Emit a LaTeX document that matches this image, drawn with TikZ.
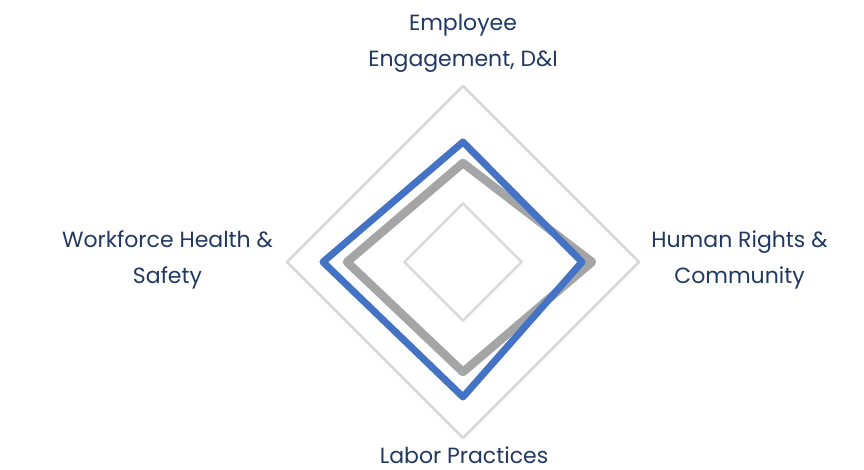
\documentclass[tikz,border=0pt]{standalone}
\usepackage{fontspec}
\setmainfont{Poppins}
\definecolor{navy}{HTML}{203864}
\definecolor{gridgray}{HTML}{D9D9D9}
\definecolor{seriesblue}{HTML}{4472C4}
\definecolor{seriesgray}{HTML}{A5A5A5}
\begin{document}
\begin{tikzpicture}[x = 1pt, y = 1pt, line join = round,
    axislabel/.style = {text = navy, align = center, inner sep = 0pt,
      font = \fontsize{22}{36}\selectfont}]
  \useasboundingbox (-463,-208) rectangle (401,262);
  % grid
  \foreach \r in {58.7,176}
    \draw [gridgray, line width = 2.5] (0,\r) -- (\r,0) -- (0,-\r) -- (-\r,0) -- cycle;
  % series
  \draw [seriesgray, line width = 8.5] (0,99) -- (129,0) -- (0,-110) -- (-116,0) -- cycle;
  \draw [seriesblue, line width = 7] (0,120) -- (119,0) -- (0,-135) -- (-140,0) -- cycle;
  % labels
  \node [axislabel] (engagement) at (0,219) {Employee\\Engagement, D\&I};
  \node [axislabel] (rights) at (276.5,2) {Human Rights \&\\Community};
  \node [axislabel, anchor = base, text depth = 0pt] (labor) at (1,-202) {Labor Practices};
  \node [axislabel] (health) at (-295.5,2) {Workforce Health \&\\Safety};
\end{tikzpicture}
\end{document}
